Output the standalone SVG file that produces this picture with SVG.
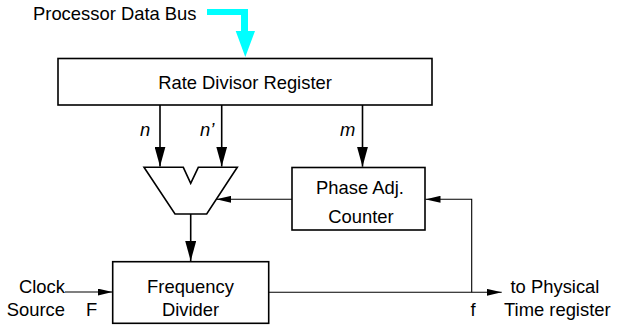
<svg xmlns="http://www.w3.org/2000/svg" width="621" height="326" viewBox="0 0 621 326">
<defs>
<style>
.box{fill:#fff;stroke:#000;stroke-width:1.6}
.t{font-family:"Liberation Sans",Arial,sans-serif;font-size:18.4px;fill:#000}
.i{font-style:italic}
.m{text-anchor:middle}
.e{text-anchor:end}
.thick{fill:none;stroke:#000;stroke-width:1.6}
.thin{fill:none;stroke:#000;stroke-width:1.1}
</style>
<marker id="big" markerUnits="userSpaceOnUse" markerWidth="20" markerHeight="11" refX="20" refY="5.5" orient="auto" viewBox="0 0 20 11">
<path d="M0,0 L20,5.5 L0,11 Z" fill="#000"/>
</marker>
<marker id="small" markerUnits="userSpaceOnUse" markerWidth="15" markerHeight="7" refX="15" refY="3.5" orient="auto" viewBox="0 0 15 7">
<path d="M0,0 L15,3.5 L0,7 Z" fill="#000"/>
</marker>
</defs>
<rect width="621" height="326" fill="#fff"/>

<g id="bus">
<text class="t" x="33" y="20">Processor Data Bus</text>
<polygon points="207,9 248,9 248,31 255,31 245.3,57 235.7,31 241,31 241,15 207,15" fill="#00FFFF"/>
</g>

<g id="register">
<rect class="box" x="58" y="58.5" width="374" height="46.5"/>
<text class="t m" x="245" y="89">Rate Divisor Register</text>
</g>

<g id="mux">
<polygon class="box" points="144,167.3 183.3,167.3 190.7,183.3 198.3,167.3 237.3,167.3 206.7,214 175,214"/>
</g>

<g id="counter">
<rect class="box" x="292" y="167.5" width="133" height="62.5"/>
<text class="t m" x="360" y="194">Phase Adj.</text>
<text class="t m" x="361" y="222.5">Counter</text>
</g>

<g id="divider">
<rect class="box" x="112.7" y="261.7" width="156" height="61.6"/>
<text class="t m" x="190.5" y="292.5">Frequency</text>
<text class="t m" x="190.5" y="316">Divider</text>
</g>

<g id="labels">
<text class="t i" x="140" y="136">n</text>
<text class="t i" x="200" y="136">n’</text>
<text class="t i" x="340" y="136">m</text>
<text class="t e" x="65" y="292.5">Clock</text>
<text class="t e" x="65" y="316">Source</text>
<text class="t" x="86" y="316">F</text>
<text class="t" x="470.5" y="316">f</text>
<text class="t" x="510.5" y="292.5">to Physical</text>
<text class="t" x="504" y="316">Time register</text>
</g>

<g id="connectors">
<line class="thick" x1="160" y1="105" x2="160" y2="166.5" marker-end="url(#big)"/>
<line class="thick" x1="221.7" y1="105" x2="221.7" y2="166.5" marker-end="url(#big)"/>
<line class="thick" x1="362.5" y1="105" x2="362.5" y2="166.7" marker-end="url(#big)"/>
<line class="thick" x1="190.7" y1="214" x2="190.7" y2="261" marker-end="url(#big)"/>
<line class="thin" x1="292" y1="199.3" x2="216.3" y2="199.3" marker-end="url(#small)"/>
<line class="thin" x1="65" y1="292" x2="112.5" y2="292" marker-end="url(#small)"/>
<line class="thin" x1="268.7" y1="292.3" x2="501.7" y2="292.3" marker-end="url(#small)"/>
<polyline class="thin" points="471.7,292.3 471.7,199.3 425.5,199.3" marker-end="url(#small)"/>
</g>
</svg>
